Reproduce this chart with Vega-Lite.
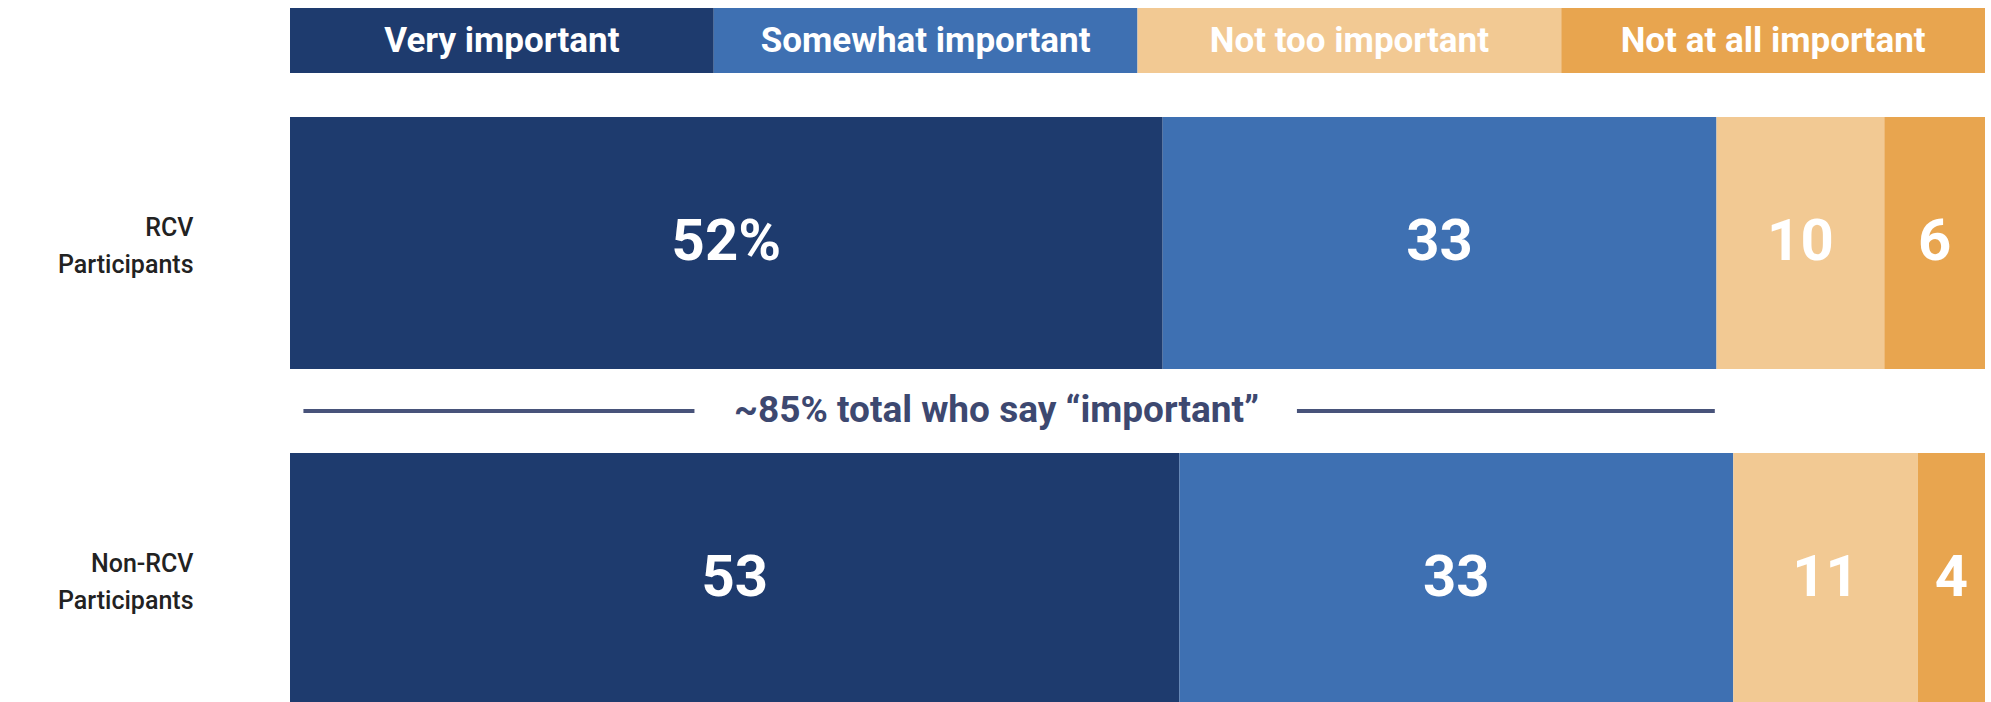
{
  "$schema": "https://vega.github.io/schema/vega-lite/v6.json",
  "autosize": {"type": "pad"},
  "padding": {"left": 5, "top": 8, "right": 6, "bottom": 0},
  "background": "white",
  "spacing": 44,
  "config": {"view": {"stroke": null}, "font": "Roboto"},
  "datasets": {
    "categories": [
      {"category": "Very important"},
      {"category": "Somewhat important"},
      {"category": "Not too important"},
      {"category": "Not at all important"}
    ],
    "survey": [
      {"group": "RCV Participants", "category": "Very important", "order": 1, "value": 52, "label": "52%"},
      {"group": "RCV Participants", "category": "Somewhat important", "order": 2, "value": 33, "label": "33"},
      {"group": "RCV Participants", "category": "Not too important", "order": 3, "value": 10, "label": "10"},
      {"group": "RCV Participants", "category": "Not at all important", "order": 4, "value": 6, "label": "6"},
      {"group": "Non-RCV Participants", "category": "Very important", "order": 1, "value": 53, "label": "53"},
      {"group": "Non-RCV Participants", "category": "Somewhat important", "order": 2, "value": 33, "label": "33"},
      {"group": "Non-RCV Participants", "category": "Not too important", "order": 3, "value": 11, "label": "11"},
      {"group": "Non-RCV Participants", "category": "Not at all important", "order": 4, "value": 4, "label": "4"}
    ],
    "bracket": [
      {"group": "RCV Participants", "start": 0.8, "end": 24.1},
      {"group": "RCV Participants", "start": 60.0, "end": 84.9}
    ],
    "note": [
      {"group": "RCV Participants", "pos": 42.1, "text": "~85% total who say “important”"}
    ]
  },
  "vconcat": [
    {
      "width": 1695,
      "height": 65,
      "data": {"name": "categories"},
      "encoding": {
        "x": {
          "field": "category",
          "type": "nominal",
          "sort": ["Very important", "Somewhat important", "Not too important", "Not at all important"],
          "scale": {"paddingInner": 0, "paddingOuter": 0},
          "axis": null
        }
      },
      "layer": [
        {
          "mark": {"type": "rect"},
          "encoding": {
            "color": {
              "field": "category",
              "type": "nominal",
              "scale": {
                "domain": ["Very important", "Somewhat important", "Not too important", "Not at all important"],
                "range": ["#1e3b6e", "#3e70b2", "#f2c993", "#e8a54f"]
              },
              "legend": null
            }
          }
        },
        {
          "mark": {"type": "text", "color": "white", "fontSize": 35, "fontWeight": "bold", "baseline": "middle", "font": "Roboto"},
          "encoding": {"text": {"field": "category"}}
        }
      ]
    },
    {
      "width": 1695,
      "height": 588,
      "encoding": {
        "y": {
          "field": "group",
          "type": "nominal",
          "sort": ["RCV Participants", "Non-RCV Participants"],
          "scale": {"paddingInner": 0.25, "paddingOuter": 0},
          "axis": {
            "title": null,
            "domain": false,
            "ticks": false,
            "labelPadding": 97,
            "labelFontSize": 25,
            "labelFontWeight": 500,
            "labelFont": "Roboto",
            "labelColor": "#222222",
            "labelLineHeight": 37,
            "labelOffset": -15,
            "labelExpr": "split(datum.value, ' ')",
            "minExtent": 285,
            "maxExtent": 285
          }
        }
      },
      "layer": [
        {
          "data": {"name": "survey"},
          "mark": {"type": "bar"},
          "encoding": {
            "x": {"field": "value", "type": "quantitative", "stack": "zero", "scale": {"domain": [0, 101], "nice": false}, "axis": null},
            "color": {
              "field": "category",
              "type": "nominal",
              "scale": {
                "domain": ["Very important", "Somewhat important", "Not too important", "Not at all important"],
                "range": ["#1e3b6e", "#3e70b2", "#f2c993", "#e8a54f"]
              },
              "legend": null
            },
            "order": {"field": "order", "type": "quantitative"}
          }
        },
        {
          "data": {"name": "survey"},
          "mark": {"type": "text", "color": "white", "fontSize": 58, "fontWeight": "bold", "font": "Roboto", "baseline": "middle"},
          "encoding": {
            "x": {"field": "value", "type": "quantitative", "stack": "zero", "bandPosition": 0.5},
            "detail": {"field": "category"},
            "order": {"field": "order", "type": "quantitative"},
            "text": {"field": "label"}
          }
        },
        {
          "data": {"name": "bracket"},
          "mark": {"type": "rule", "color": "#48537a", "strokeWidth": 4},
          "encoding": {
            "x": {"field": "start", "type": "quantitative"},
            "x2": {"field": "end"},
            "y": {"field": "group", "type": "nominal", "bandPosition": 1.1667}
          }
        },
        {
          "data": {"name": "note"},
          "mark": {"type": "text", "color": "#3d4870", "fontSize": 37, "fontWeight": "bold", "font": "Roboto", "baseline": "middle"},
          "encoding": {
            "x": {"field": "pos", "type": "quantitative"},
            "y": {"field": "group", "type": "nominal", "bandPosition": 1.1667},
            "text": {"field": "text"}
          }
        }
      ]
    }
  ]
}
